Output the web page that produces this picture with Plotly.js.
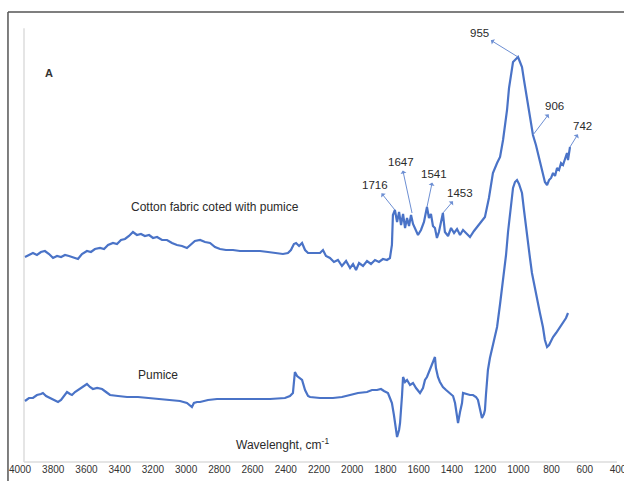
<!DOCTYPE html>
<html>
<head>
<meta charset="utf-8">
<script src="https://cdn.plot.ly/plotly-3.0.1.min.js"></script>
<style>html,body{margin:0;padding:0;background:#fff;}#chart{width:624px;height:481px;}</style>
</head>
<body>
<div id="chart"></div>
<script>
// Wavenumber (cm-1) and transmittance (a.u.)
const coatedWavenumber = [3970,3946,3922,3898,3874,3850,3825,3801,3777,3753,3729,3705,3681,3651,3627,3597,3573,3549,3518,3494,3470,3440,3416,3392,3368,3344,3320,3296,3272,3248,3223,3199,3175,3145,3115,3085,3055,3025,2995,2971,2947,2916,2886,2856,2826,2796,2760,2718,2676,2615,2555,2507,2459,2417,2387,2369,2351,2338,2320,2302,2284,2266,2230,2194,2176,2158,2134,2110,2086,2062,2037,2013,1995,1977,1959,1935,1911,1887,1863,1839,1815,1791,1773,1761,1755,1743,1730,1718,1706,1694,1682,1670,1658,1646,1634,1622,1604,1586,1568,1550,1538,1526,1514,1502,1490,1478,1466,1454,1442,1423,1405,1387,1369,1351,1333,1315,1291,1267,1249,1225,1201,1177,1153,1128,1110,1092,1080,1068,1056,1044,1032,1020,1002,990,978,966,948,930,912,894,876,858,840,827,815,803,791,779,767,755,743,731,719,707,701,689];
const coatedSignal = [41.0,41.4,41.8,41.4,42.0,42.2,41.6,40.8,41.2,41.0,41.4,41.2,41.0,40.6,41.6,42.2,42.0,42.6,42.8,42.6,43.4,43.8,43.6,44.4,44.6,45.2,46.0,45.4,45.6,45.2,45.4,44.8,45.0,44.4,44.4,43.8,43.4,43.2,42.8,43.6,44.2,44.4,44.0,43.8,43.0,42.6,42.4,42.4,42.2,42.2,42.2,42.0,41.8,41.6,41.8,42.4,43.6,43.8,43.2,43.8,42.4,41.8,41.8,41.8,42.4,41.2,40.8,40.0,40.4,39.2,40.2,38.8,39.6,38.4,39.8,39.2,40.2,39.6,40.4,40.0,40.6,40.4,40.8,43.4,49.4,50.4,48.0,50.0,47.4,49.6,46.8,48.8,47.2,49.4,47.6,46.8,45.4,46.4,48.0,51.0,48.8,49.6,47.2,46.8,44.8,46.0,48.0,49.8,46.0,45.2,46.8,45.8,46.6,45.4,46.4,45.8,45.0,46.2,47.0,48.0,49.0,52.8,57.8,59.8,61.0,64.4,67.0,70.4,74.8,77.0,80.0,80.4,81.0,80.0,79.0,76.4,73.0,69.2,65.4,63.4,60.8,58.4,56.0,55.4,56.4,56.8,57.8,57.2,58.8,58.4,59.8,59.4,60.8,61.8,60.4,63.0];

const pumiceWavenumber = [3970,3946,3922,3898,3874,3862,3843,3819,3795,3771,3753,3735,3717,3699,3687,3669,3651,3633,3615,3597,3579,3561,3536,3506,3482,3458,3410,3356,3290,3217,3145,3079,3037,2995,2977,2965,2953,2934,2916,2868,2814,2736,2615,2495,2405,2375,2357,2345,2332,2320,2302,2284,2266,2254,2194,2116,2062,2013,1965,1911,1881,1851,1827,1809,1785,1773,1761,1749,1737,1730,1718,1712,1700,1694,1682,1670,1652,1634,1616,1592,1574,1562,1550,1538,1532,1520,1514,1502,1496,1484,1472,1454,1435,1411,1393,1381,1369,1363,1351,1339,1333,1315,1291,1273,1255,1243,1231,1219,1207,1201,1195,1183,1171,1153,1128,1110,1092,1074,1062,1050,1038,1032,1020,1008,996,978,966,948,930,918,900,882,870,852,840,827,815,803,791,773,749,731,713,701];
const pumiceSignal = [12.2,12.8,12.8,13.4,13.6,13.8,13.2,12.8,12.4,12.0,12.4,13.2,14.0,13.6,13.4,14.0,14.4,14.8,15.2,15.6,15.0,14.6,14.8,14.6,14.0,13.4,13.2,13.0,13.0,12.8,12.6,12.4,12.2,11.8,11.4,11.0,11.8,12.0,12.0,12.4,12.6,12.6,12.6,12.6,12.8,13.2,13.8,18.0,17.2,16.8,16.4,14.4,13.2,13.0,12.8,12.8,13.0,13.4,13.8,14.0,14.4,14.4,14.6,14.2,13.8,12.8,11.8,9.4,6.8,5.0,6.4,7.8,13.4,17.0,16.0,16.4,15.4,15.8,14.8,13.8,14.8,16.4,17.0,18.0,18.4,19.4,20.0,21.0,18.8,17.0,16.0,15.0,14.4,13.8,13.2,11.8,9.4,7.8,10.0,11.8,13.8,13.6,13.4,13.4,13.0,12.4,10.8,8.8,9.6,10.4,13.4,18.4,20.8,23.6,27.0,31.6,36.4,41.4,46.0,49.8,53.2,54.8,56.0,56.4,55.6,53.8,50.4,45.0,40.8,37.8,34.6,32.0,29.8,27.0,24.4,23.0,23.4,24.2,25.0,25.8,27.0,28.0,28.8,29.8];

const tickValues = [4000,3800,3600,3400,3200,3000,2800,2600,2400,2200,2000,1800,1600,1400,1200,1000,800,600,400];
const tickLabels = ["4000","3800","3600","3400","3200","3000","2800","2600","2400","2200","2000","1800","1600","1400","1200","1000","800","600","400"];

const peakLabels = ["955","906","742","1716","1647","1541","1453"];
const peakWavenumber = [1002,912,689,1743,1640,1550,1454];
const peakSignal = [81.0,65.4,63.0,50.4,49.8,51.0,49.8];

const lineColor = '#4a73c7';
const font = 'Liberation Sans, Arial, sans-serif';

const traces = [
  {x: coatedWavenumber, y: coatedSignal, type: 'scatter', mode: 'lines',
   line: {color: lineColor, width: 2.2}, hoverinfo: 'skip'},
  {x: pumiceWavenumber, y: pumiceSignal, type: 'scatter', mode: 'lines',
   line: {color: lineColor, width: 2.2}, hoverinfo: 'skip'}
];

const offsets = [[-39,-24],[22,-29],[13,-21],[-20,-25],[-11,-51],[7,-33],[17,-20]];
const annotations = peakLabels.map((t, i) => ({
  x: peakWavenumber[i], y: peakSignal[i], xref: 'x', yref: 'y',
  text: t, showarrow: true, arrowside: 'start', arrowhead: 2, arrowsize: 1.2,
  arrowwidth: 1, arrowcolor: '#6d8fd3', ax: offsets[i][0], ay: offsets[i][1],
  standoff: 0, startstandoff: 1,
  font: {family: font, size: 11.5, color: '#2a2a2a'}
}));
annotations.push(
  {x: 3825, y: 77.8, xref: 'x', yref: 'y', text: '<b>A</b>', showarrow: false,
   font: {family: font, size: 11, color: '#333'}},
  {x: 2826, y: 51, xref: 'x', yref: 'y', text: 'Cotton fabric coted with pumice', showarrow: false,
   font: {family: font, size: 12, color: '#2a2a2a'}},
  {x: 3169, y: 17.4, xref: 'x', yref: 'y', text: 'Pumice', showarrow: false,
   font: {family: font, size: 12, color: '#2a2a2a'}},
  {x: 2417, y: 3.6, xref: 'x', yref: 'y', text: 'Wavelenght, cm<sup>-1</sup>', showarrow: false,
   font: {family: font, size: 12, color: '#2a2a2a'}}
);

const layout = {
  width: 624, height: 481,
  margin: {l: 20, r: 6, t: 12, b: 19, pad: 0},
  paper_bgcolor: '#ffffff', plot_bgcolor: '#ffffff',
  showlegend: false,
  xaxis: {range: [4000, 400], tickvals: tickValues, ticktext: tickLabels,
    showgrid: false, zeroline: false, showline: false, ticks: '',
    ticklabeloverflow: 'allow',
    tickfont: {family: font, size: 10, color: '#333'}, fixedrange: true},
  yaxis: {range: [0, 90], visible: false, fixedrange: true},
  annotations: annotations,
  shapes: [
    {type: 'line', xref: 'paper', yref: 'paper', x0: -0.0201, x1: -0.0201, y0: -0.05, y1: 1,
     line: {color: '#555', width: 1.5}, layer: 'above'},
    {type: 'line', xref: 'paper', yref: 'paper', x0: -0.0201, x1: 1.03, y0: 1, y1: 1,
     line: {color: '#555', width: 1.5}, layer: 'above'},
    {type: 'line', xref: 'paper', yref: 'paper', x0: 0.0067, x1: 0.0067, y0: 0, y1: 0.964,
     line: {color: '#dddddd', width: 1.5}, layer: 'below'},
    {type: 'line', xref: 'paper', yref: 'paper', x0: 0.0067, x1: 0.9983, y0: 0, y1: 0,
     line: {color: '#dddddd', width: 1.5}, layer: 'below'}
  ]
};

Plotly.newPlot('chart', traces, layout, {displayModeBar: false, staticPlot: true});
</script>
</body>
</html>
